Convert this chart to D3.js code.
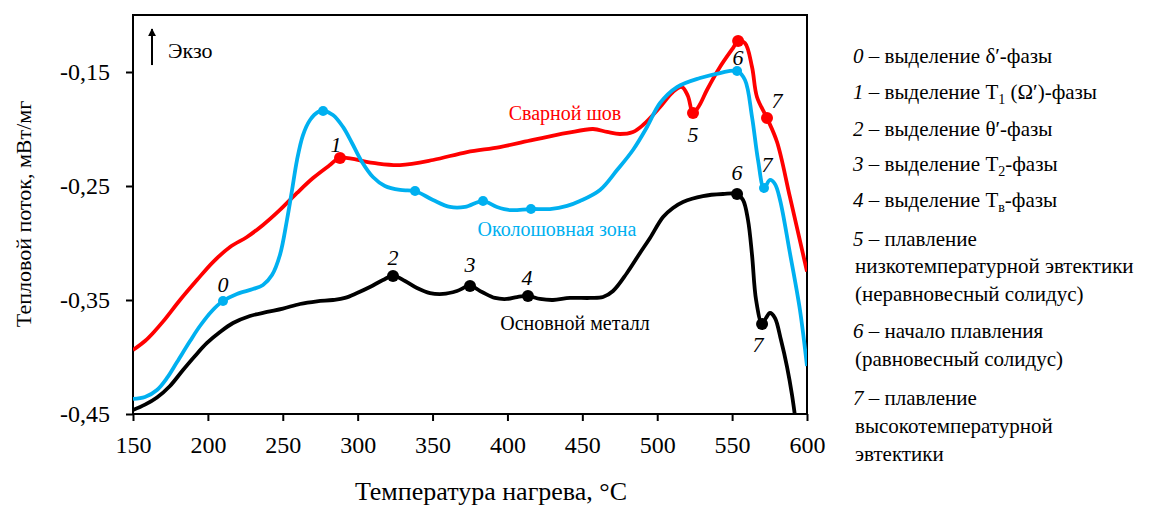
<!DOCTYPE html>
<html>
<head>
<meta charset="utf-8">
<script src="https://cdn.jsdelivr.net/npm/d3@7"></script>
<style>
body{margin:0;background:#fff}
svg text{font-family:"Liberation Serif",Tinos,"Times New Roman","DejaVu Serif","Noto Serif",serif;fill:#000}
</style>
</head>
<body>
<svg id="chart" width="1165" height="507"></svg>
<script>
// tick values
var xTicks=[150,200,250,300,350,400,450,500,550,600]
var yTicks=[-0.45,-0.35,-0.25,-0.15]

// heat flow curves, [temperature, mW/mg]
var weldSeam=[[150,-0.3939],[158,-0.386],[164,-0.378],[170,-0.369],[181.4,-0.35],[192.7,-0.3325],[203.4,-0.3167],
  [214.8,-0.3035],[226.1,-0.2947],[236.8,-0.2842],[248.1,-0.271],[259.5,-0.2561],[270.2,-0.243],
  [281.5,-0.2316],[288.2,-0.2254],[310.2,-0.2298],[328.3,-0.2316],[350.3,-0.2272],
  [373,-0.2202],[395,-0.2158],[417.1,-0.2096],[439.8,-0.2035],[457.1,-0.2],[466.5,-0.2026],
  [475.1,-0.2044],[483.8,-0.2026],[490.5,-0.1965],[501.9,-0.1807],[510.5,-0.1675],[516.5,-0.1632],
  [520.5,-0.171],[523.9,-0.186],[527.9,-0.1798],[533.2,-0.1658],[541.9,-0.1456],[550.6,-0.129],
  [554,-0.1228],[558.6,-0.1246],[563.3,-0.1456],[566.6,-0.1719],[573.3,-0.1904],[580,-0.2114],
  [588.6,-0.2596],[600,-0.325]]
var hazZone=[[150,-0.4368],[158,-0.4351],[166,-0.4289],[172.7,-0.4184],[179.4,-0.4044],[188.1,-0.386],
  [194.7,-0.3728],[202.7,-0.3596],[210.1,-0.3509],[219.4,-0.3447],[230.1,-0.3404],[236.8,-0.3368],
  [242.8,-0.3281],[248.1,-0.3105],[252.8,-0.2798],[256.2,-0.2535],[259.5,-0.2272],[263.5,-0.2053],
  [268.2,-0.1921],[273.5,-0.1851],[276.9,-0.1842],[283.5,-0.1877],[290.2,-0.1982],[296.2,-0.2123],
  [302.9,-0.2289],[310.2,-0.2421],[318.2,-0.25],[328.3,-0.2535],[338.3,-0.2544],[350.3,-0.2623],
  [361.6,-0.2684],[371.7,-0.2684],[383.7,-0.2632],[393,-0.2684],[401.7,-0.2711],[415.7,-0.2702],
  [428.4,-0.2702],[439.8,-0.2675],[448.4,-0.2632],[461.8,-0.2535],[473.2,-0.236],[483.8,-0.2184],
  [493.2,-0.1982],[501.9,-0.1772],[513.2,-0.1632],[528.6,-0.1553],[541.9,-0.1509],[553.3,-0.1491],
  [558.6,-0.157],[563.3,-0.1895],[567.3,-0.2272],[571.3,-0.2518],[575.3,-0.2447],[578.6,-0.2482],
  [582,-0.2623],[588.6,-0.3088],[595.3,-0.3588],[600,-0.408]]
var baseMetal=[[150,-0.4465],[158,-0.4418],[166,-0.4355],[174.7,-0.4254],[183.4,-0.4114],[191.4,-0.3991],
  [199.4,-0.3877],[208.1,-0.3781],[216.8,-0.3702],[228.1,-0.364],[239.5,-0.3605],[250.1,-0.3575],
  [261.5,-0.3535],[272.8,-0.3512],[283.5,-0.35],[291.5,-0.3482],[299.6,-0.3439],[308.2,-0.3386],
  [316.9,-0.3325],[323.6,-0.3289],[331.6,-0.3333],[339.6,-0.3395],[348.3,-0.3439],[357,-0.3447],
  [366.3,-0.3421],[375,-0.3377],[383,-0.343],[391.7,-0.3482],[399.7,-0.3491],[406.4,-0.3474],
  [413.7,-0.3465],[421.7,-0.3491],[430.4,-0.35],[441.8,-0.3482],[455.1,-0.3482],[463.8,-0.3474],
  [470.5,-0.3421],[479.8,-0.3263],[488.5,-0.3088],[495.2,-0.2956],[503.9,-0.2772],[510.5,-0.2693],
  [517.2,-0.264],[530.5,-0.2588],[543.9,-0.257],[553.3,-0.257],[557.3,-0.2623],[560.6,-0.2798],
  [563.3,-0.3105],[566,-0.35],[570,-0.3711],[572.6,-0.3658],[575.3,-0.3614],[578.6,-0.3658],
  [582.6,-0.3849],[586.7,-0.4088],[590,-0.4333],[593,-0.462]]

// marked points [temperature, value, number]
var weldMarks=[[288.2,-0.2254,'1'],[523.9,-0.186,'5'],[554,-0.1228,''],[573.3,-0.1904,'7']]
var hazMarks=[[210.1,-0.3509,'0'],[276.9,-0.1842,''],[338.3,-0.2544,''],[383.7,-0.2632,''],
  [415.7,-0.2702,''],[553.3,-0.1491,'6'],[571.3,-0.2518,'7']]
var baseMarks=[[323.6,-0.3289,'2'],[375,-0.3377,'3'],[413.7,-0.3465,'4'],[553.3,-0.257,'6'],[570,-0.3711,'7']]

var seriesNames=['Сварной шов','Околошовная зона','Основной металл']
var xTitle='Температура нагрева, °С'
var yTitle='Тепловой поток, мВт/мг'

// legend rows: [number, text, subscript, tail]
var legendRows=[
  ['0',' – выделение δ′-фазы','',''],
  ['1',' – выделение Т','1',' (Ω′)-фазы'],
  ['2',' – выделение θ′-фазы','',''],
  ['3',' – выделение Т','2','-фазы'],
  ['4',' – выделение Т','в','-фазы'],
  ['5',' – плавление','',''],
  ['','низкотемпературной эвтектики','',''],
  ['','(неравновесный солидус)','',''],
  ['6',' – начало плавления','',''],
  ['','(равновесный солидус)','',''],
  ['7',' – плавление','',''],
  ['','высокотемпературной','',''],
  ['','эвтектики','','']
]

var W=1165,H=507,
    m={l:133,t:15,r:358,b:93},
    iw=W-m.l-m.r, ih=H-m.t-m.b
var svg=d3.select('#chart')
var x=d3.scaleLinear().domain([150,600]).range([0,iw])
var y=d3.scaleLinear().domain([-0.45,-0.10]).range([ih,0])
var g=svg.append('g').attr('transform','translate('+m.l+','+m.t+')')

g.append('clipPath').attr('id','plotclip').append('rect')
  .attr('x',0).attr('y',0).attr('width',iw).attr('height',ih)

// axes
var xAxis=d3.axisBottom(x).tickValues(xTicks).tickSize(7).tickPadding(15)
var yAxis=d3.axisLeft(y).tickValues(yTicks).tickSize(7).tickPadding(16)
  .tickFormat(function(d){return d.toFixed(2).replace('.',',')})
var gx=g.append('g').attr('transform','translate(0,'+ih+')').call(xAxis)
var gy=g.append('g').call(yAxis)
;[gx,gy].forEach(function(a){
  a.attr('font-family',null)
  a.select('.domain').remove()
  a.selectAll('line').attr('stroke','#000').attr('stroke-width',2)
  a.selectAll('text').attr('font-size',24).attr('fill','#000')
})
g.append('rect').attr('width',iw).attr('height',ih)
  .attr('fill','none').attr('stroke','#000').attr('stroke-width',2)

// curves
var line=d3.line().x(function(d){return x(d[0])}).y(function(d){return y(d[1])})
  .curve(d3.curveCatmullRom.alpha(0.5))
var series=[
  {data:weldSeam,marks:weldMarks,color:'#ff0000',r:6},
  {data:hazZone,marks:hazMarks,color:'#00b0f0',r:5},
  {data:baseMetal,marks:baseMarks,color:'#000000',r:6}
]
var lines=g.append('g').attr('clip-path','url(#plotclip)')
series.forEach(function(s){
  lines.append('path').datum(s.data).attr('d',line)
    .attr('fill','none').attr('stroke',s.color).attr('stroke-width',3.8)
    .attr('stroke-linejoin','round')
})
series.forEach(function(s){
  g.append('g').selectAll('circle').data(s.marks).enter().append('circle')
    .attr('cx',function(d){return x(d[0])}).attr('cy',function(d){return y(d[1])})
    .attr('r',s.r).attr('fill',s.color)
})

// number labels next to the markers: offsets in px [dx, dy]
var numOffsets={
  'w1':[-4,-6],'w5':[0,29],'w7':[10,-10],
  'h0':[0,-9],'h6':[1,-6],'h7':[3,-16],
  'b2':[0,-11],'b3':[0,-14],'b4':[-1,-11],'b6':[0,-14],'b7':[-4,28]
}
;[['w',weldMarks],['h',hazMarks],['b',baseMarks]].forEach(function(p){
  p[1].forEach(function(d){
    if(!d[2]) return
    var o=numOffsets[p[0]+d[2]]
    g.append('text').attr('x',x(d[0])+o[0]).attr('y',y(d[1])+o[1])
      .attr('text-anchor','middle').attr('font-size',22).attr('font-style','italic')
      .text(d[2])
  })
})

// series names, anchored in data units
var namePos=[[438.4,-0.1921,'#ff0000'],[433.1,-0.2939,'#00b0f0'],[445.1,-0.3763,'#000000']]
seriesNames.forEach(function(n,i){
  g.append('text').attr('x',x(namePos[i][0])).attr('y',y(namePos[i][1]))
    .attr('text-anchor','middle').attr('font-size',20)
    .style('fill',namePos[i][2]).text(n)
})

// "Экзо" arrow
svg.append('defs').append('marker').attr('id','arr').attr('viewBox','0 0 10 10')
  .attr('refX',9).attr('refY',5).attr('markerWidth',4).attr('markerHeight',5)
  .attr('orient','auto').append('path').attr('d','M0,0L10,5L0,10z').attr('fill','#000')
g.append('line').attr('x1',x(162.7)).attr('x2',x(162.7)).attr('y1',y(-0.1439)).attr('y2',y(-0.1123))
  .attr('stroke','#000').attr('stroke-width',2).attr('marker-end','url(#arr)')
g.append('text').attr('x',x(173.4)).attr('y',y(-0.1377)).attr('font-size',22).text('Экзо')

// axis titles
svg.append('text').attr('x',491).attr('y',500).attr('text-anchor','middle')
  .attr('font-size',26).text(xTitle)
svg.append('text').attr('transform','translate(31,214) rotate(-90)')
  .attr('text-anchor','middle').attr('font-size',22).text(yTitle)

// legend
var legendY=[63,99,136,171,207,246,273,301,338,366,405,433,461]
var leg=svg.append('g').attr('font-size',21)
legendRows.forEach(function(r,i){
  var t=leg.append('text').attr('x',853).attr('y',legendY[i])
  if(r[0]) t.append('tspan').attr('font-style','italic').text(r[0])
  else t.attr('x',855)
  t.append('tspan').text(r[1])
  if(r[2]){
    t.append('tspan').attr('font-size',14).attr('dy',5).text(r[2])
    t.append('tspan').attr('dy',-5).text(r[3])
  }
})
</script>
</body>
</html>
